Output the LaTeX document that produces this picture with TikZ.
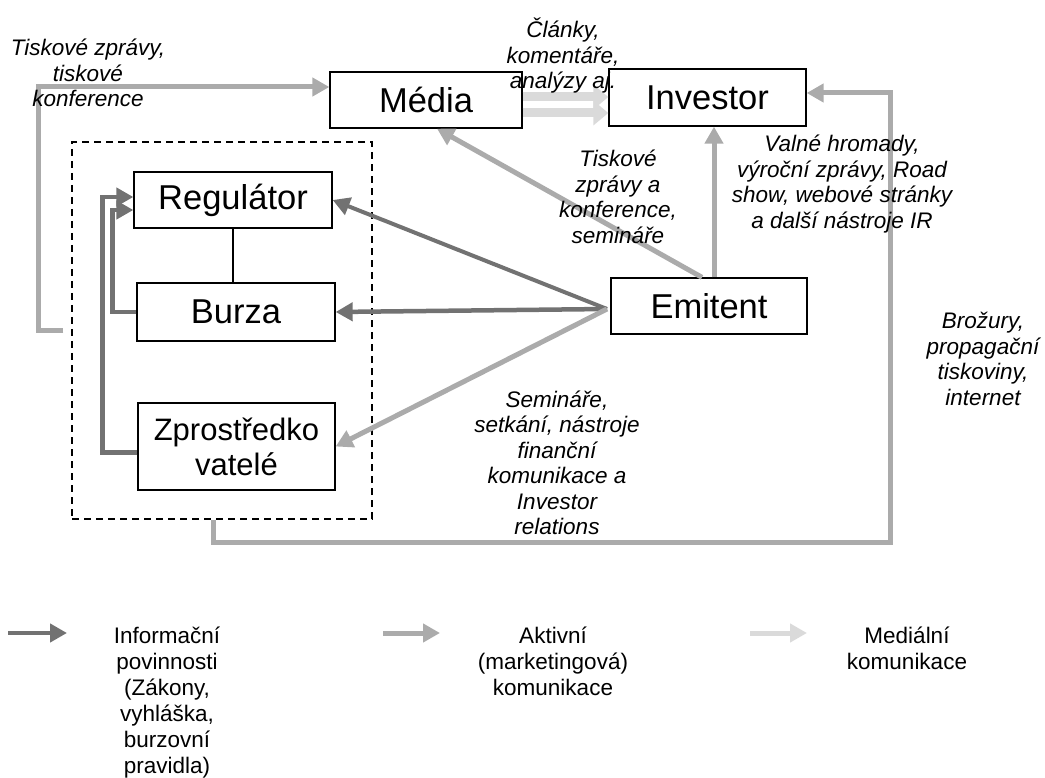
\documentclass[tikz,border=0pt]{standalone}
\usepackage{fontspec}
\setmainfont{Liberation Sans}
\usetikzlibrary{arrows.meta}
\definecolor{cdark}{HTML}{727272}
\definecolor{cmed}{HTML}{ABABAB}
\definecolor{clight}{HTML}{DADADA}
\begin{document}
\begin{tikzpicture}[x=1pt,y=-1pt,
  box/.style={draw, line width=1.3pt, inner sep=0pt, align=center,
    font=\fontsize{34.5}{36}\selectfont},
  lbl/.style={align=center, inner sep=0pt, font=\fontsize{22.5}{25.5}\selectfont\itshape},
  leg/.style={align=center, inner sep=0pt, font=\fontsize{22.5}{26}\selectfont},
  darkarrow/.style={draw=cdark, line width=4.5pt, -{Triangle[length=17pt,width=18pt]}},
  medarrow/.style={draw=cmed, line width=5pt, -{Triangle[length=17pt,width=18pt]}},
  lightarrow/.style={draw=clight, line width=9pt, -{Triangle[length=15pt,width=24pt]}},
]
\useasboundingbox (0,0) rectangle (1045,778);

% boxes
\node[box, minimum width=192pt, minimum height=56pt] (media) at (426,100) {Média};
\node[box, minimum width=197pt, minimum height=57pt] (investor) at (707.5,97.5) {Investor};
\node[box, minimum width=198pt, minimum height=56pt] (regulator) at (233,200) {Regulátor};
\node[box, minimum width=198pt, minimum height=58pt] (burza) at (236,312) {Burza};
\node[box, minimum width=197pt, minimum height=87pt, font=\fontsize{31}{35}\selectfont] (zpro) at (236.5,446.5) {Zprostředko\\vatelé};
\node[box, minimum width=196pt, minimum height=56pt] (emitent) at (709,306) {Emitent};
\node[draw, dashed, dash pattern=on 7pt off 5pt, line width=1.2pt, minimum width=300pt, minimum height=377pt, inner sep=0pt] (grp) at (222,330.5) {};

\coordinate (apex) at (607,309);

% thin link
\draw[line width=1.2pt] (regulator.south) -- (regulator.south |- burza.north);

% dark arrows
\draw[darkarrow] (burza.west) -- ++(-24,0) |- ([yshift=-10pt]regulator.west);
\draw[darkarrow] ([yshift=-6pt]zpro.west) -- ++(-35,0) |- ([yshift=3pt]regulator.west);
\draw[darkarrow, line width=4pt] (apex) -- (regulator.east);
\draw[darkarrow] (apex) -- (burza.east);

% medium arrows
\draw[medarrow] (apex) -- (zpro.east);
\draw[medarrow] ([xshift=-7pt]emitent.north) -- ([xshift=11pt]media.south);
\draw[medarrow] ([xshift=5pt]emitent.north) -- ([xshift=5pt]emitent.north |- investor.south);
\draw[medarrow] ([xshift=-8pt]grp.west) -- ++(-25,0) |- ([yshift=13pt]media.west);
\draw[medarrow] ([xshift=-9pt]grp.south) -- ++(0,23) -- ++(677,0) |- ([yshift=4.5pt]investor.east);

% light arrows
\draw[lightarrow] ([yshift=3pt]media.east) -- ([yshift=3pt]media.east -| investor.west);
\draw[lightarrow] ([yshift=-13pt]media.east) -- ([yshift=-13pt]media.east -| investor.west);

% labels
\node[lbl] (l1) at (88,73) {Tiskové zprávy,\\tiskové\\konference};
\node[lbl] (l2) at (563,56) {Články,\\komentáře,\\analýzy aj.};
\node[lbl] (l3) at (618,197) {Tiskové\\zprávy a\\konference,\\semináře};
\node[lbl] (l4) at (842,184) {Valné hromady,\\výroční zprávy, Road\\show, webové stránky\\a další nástroje IR};
\node[lbl] (l5) at (983,359) {Brožury,\\propagační\\tiskoviny,\\internet};
\node[lbl] (l6) at (557,463) {Semináře,\\setkání, nástroje\\finanční\\komunikace a\\Investor\\relations};

% legend
\coordinate (la1) at (8,633); \coordinate (lb1) at (67,633);
\coordinate (la2) at (383,633); \coordinate (lb2) at (440,633);
\coordinate (la3) at (750,633); \coordinate (lb3) at (807,633);
\draw[darkarrow] (la1) -- (lb1);
\draw[medarrow] (la2) -- (lb2);
\draw[draw=clight, line width=5pt, -{Triangle[length=17pt,width=18pt]}] (la3) -- (lb3);
\node[leg] (t1) at (167,703) {Informační\\povinnosti\\(Zákony,\\vyhláška,\\burzovní\\pravidla)};
\node[leg] (t2) at (553,661) {Aktivní\\(marketingová)\\komunikace};
\node[leg] (t3) at (907,648) {Mediální\\komunikace};
\end{tikzpicture}
\end{document}
